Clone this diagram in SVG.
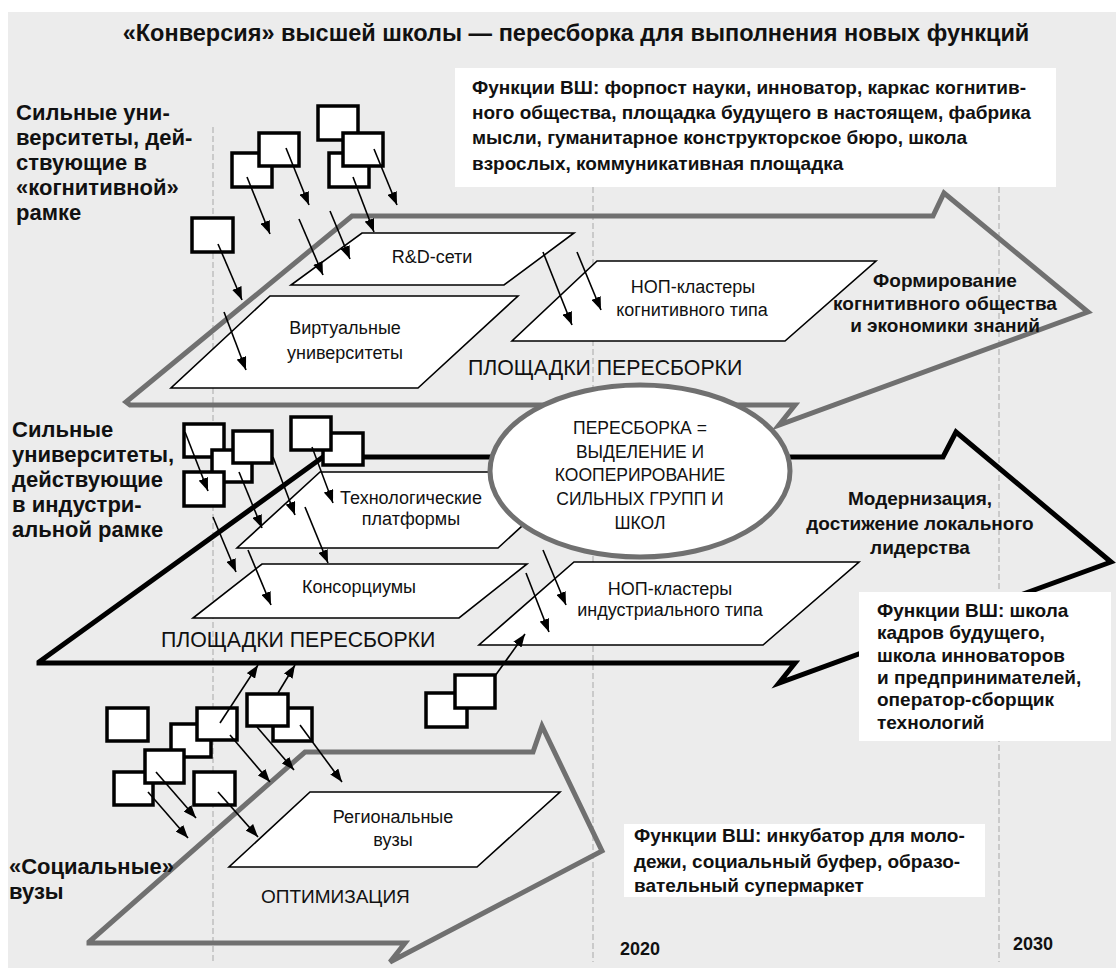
<svg xmlns="http://www.w3.org/2000/svg" width="1116" height="970" viewBox="0 0 1116 970">
<style>
.t{font-family:"Liberation Sans",Arial,sans-serif;fill:#111}
.b{font-weight:bold}
.lbl{font-size:22px;font-weight:bold}
.box{font-size:19px;font-weight:bold}
.goal{font-size:19px;font-weight:bold}
.reg{font-size:18px}
.ell{font-size:17.5px}
.big{font-size:21.3px}
.ga{fill:none;stroke:#707070;stroke-width:5;stroke-linejoin:miter}
.ba{fill:none;stroke:#000;stroke-width:5;stroke-linejoin:miter}
.pg{fill:#fff;stroke:#000;stroke-width:1.6}
.sq{fill:#fff;stroke:#000;stroke-width:3.5}
.dash{stroke:#a8a8a8;stroke-width:1;stroke-dasharray:6 3}
.wb{fill:#fff}
.c line{stroke:#000;stroke-width:1.6;marker-end:url(#ah)}
</style>
<defs>
<marker id="ah" viewBox="0 0 13 10" refX="13" refY="5" markerWidth="13" markerHeight="10" orient="auto" markerUnits="userSpaceOnUse"><path d="M0,0 L13,5 L0,10 z" fill="#000"/></marker>
</defs>
<rect x="0" y="0" width="1116" height="970" fill="#fff"/>
<rect x="8" y="12" width="1108" height="956" fill="#ececec"/>
<g id="gridlines">
<line class="dash" x1="213" y1="127" x2="213" y2="964"/>
<line class="dash" x1="593" y1="187" x2="593" y2="962"/>
<line class="dash" x1="999" y1="187" x2="999" y2="962"/>
</g>
<text class="t b" x="576" y="41" font-size="23.5" text-anchor="middle">«Конверсия» высшей школы — пересборка для выполнения новых функций</text>
<g id="arrow-cognitive"><polygon class="ga" points="126,402 352,216 933,216 944,193 1088,312 779,425 795,405 130,405"/></g>
<g id="arrow-industrial"><polygon class="ba" points="39,662 323,457 943,457 956,432 1111,562 779,683 795,663 39,663"/></g>
<g id="arrow-optimization"><polygon class="ga" points="89,942 305,752 533,752 542,726 602,851 390,962 405,943 89,943"/></g>
<g id="label-cognitive"><text class="t lbl" x="16" y="120">Сильные уни-</text><text class="t lbl" x="16" y="145">верситеты, дей-</text><text class="t lbl" x="16" y="170">ствующие в</text><text class="t lbl" x="16" y="195">«когнитивной»</text><text class="t lbl" x="16" y="220">рамке</text></g>
<g id="label-industrial"><text class="t lbl" x="12" y="437">Сильные</text><text class="t lbl" x="12" y="462">университеты,</text><text class="t lbl" x="12" y="487">действующие</text><text class="t lbl" x="12" y="512">в индустри-</text><text class="t lbl" x="12" y="537">альной рамке</text></g>
<g id="label-social"><text class="t lbl" x="9" y="874">«Социальные»</text><text class="t lbl" x="9" y="899">вузы</text></g>
<g id="rd-networks"><polygon class="pg" points="362,233 574,233 504,285 291,285"/><text class="t reg" x="432" y="263" text-anchor="middle">R&amp;D-сети</text></g>
<g id="virtual-univ"><polygon class="pg" points="270,296 518,296 418,388 171,388"/><text class="t reg" x="345" y="334" text-anchor="middle">Виртуальные</text><text class="t reg" x="345" y="359" text-anchor="middle">университеты</text></g>
<g id="nop-cognitive"><polygon class="pg" points="597,261 876,261 785,341 512,341"/><text class="t reg" x="693" y="293" text-anchor="middle">НОП-кластеры</text><text class="t reg" x="692" y="316" text-anchor="middle">когнитивного типа</text></g>
<text class="t big" x="468" y="375">ПЛОЩАДКИ ПЕРЕСБОРКИ</text>
<g id="goal-cognitive"><text class="t goal" x="945" y="287" text-anchor="middle">Формирование</text><text class="t goal" x="945" y="310" text-anchor="middle">когнитивного общества</text><text class="t goal" x="945" y="332" text-anchor="middle">и экономики знаний</text></g>
<g id="tech-platforms"><polygon class="pg" points="320,472 581,472 498,548 237,548"/><text class="t reg" x="411" y="504" text-anchor="middle">Технологические</text><text class="t reg" x="411" y="525" text-anchor="middle">платформы</text></g>
<g id="consortia"><polygon class="pg" points="262,564 527,564 459,618 193,618"/><text class="t reg" x="359" y="593" text-anchor="middle">Консорциумы</text></g>
<g id="nop-industrial"><polygon class="pg" points="574,562 859,562 763,645 479,645"/><text class="t reg" x="670" y="595" text-anchor="middle">НОП-кластеры</text><text class="t reg" x="670" y="616" text-anchor="middle">индустриального типа</text></g>
<text class="t big" x="161" y="647">ПЛОЩАДКИ ПЕРЕСБОРКИ</text>
<g id="goal-industrial"><text class="t goal" x="920" y="505" text-anchor="middle">Модернизация,</text><text class="t goal" x="920" y="530" text-anchor="middle">достижение локального</text><text class="t goal" x="920" y="554" text-anchor="middle">лидерства</text></g>
<g id="regional"><polygon class="pg" points="310,792 560,792 477,867 229,867"/><text class="t reg" x="393" y="823" text-anchor="middle">Региональные</text><text class="t reg" x="393" y="846" text-anchor="middle">вузы</text></g>
<text class="t" font-size="19" x="261" y="903">ОПТИМИЗАЦИЯ</text>
<g id="ellipse-reassembly"><ellipse cx="640" cy="471" rx="150" ry="86" fill="#fff" stroke="#707070" stroke-width="5"/>
<text class="t ell" x="640" y="434" text-anchor="middle">ПЕРЕСБОРКА =</text><text class="t ell" x="640" y="458" text-anchor="middle">ВЫДЕЛЕНИЕ И</text><text class="t ell" x="640" y="481" text-anchor="middle">КООПЕРИРОВАНИЕ</text><text class="t ell" x="640" y="505" text-anchor="middle">СИЛЬНЫХ ГРУПП И</text><text class="t ell" x="640" y="529" text-anchor="middle">ШКОЛ</text></g>
<g id="squares-cognitive">
<rect class="sq" x="232" y="153" width="40" height="34"/><rect class="sq" x="259" y="133" width="40" height="33"/>
<rect class="sq" x="318" y="106" width="40" height="34"/><rect class="sq" x="329" y="153" width="40" height="34"/><rect class="sq" x="343" y="133" width="40" height="33"/>
<rect class="sq" x="192" y="218" width="41" height="34"/>
</g>
<g id="squares-industrial">
<rect class="sq" x="184" y="424" width="40" height="33"/><rect class="sq" x="212" y="450" width="40" height="32"/><rect class="sq" x="233" y="431" width="39" height="32"/><rect class="sq" x="184" y="472" width="40" height="34"/>
<rect class="sq" x="323" y="433" width="40" height="32"/><rect class="sq" x="291" y="417" width="40" height="33"/>
<rect class="sq" x="426" y="693" width="41" height="34"/><rect class="sq" x="455" y="675" width="40" height="33"/>
</g>
<g id="squares-social">
<rect class="sq" x="107" y="708" width="41" height="33"/>
<rect class="sq" x="171" y="724" width="40" height="33"/><rect class="sq" x="197" y="708" width="40" height="32"/>
<rect class="sq" x="114" y="772" width="39" height="33"/><rect class="sq" x="145" y="750" width="39" height="33"/>
<rect class="sq" x="194" y="772" width="41" height="33"/>
<rect class="sq" x="273" y="708" width="39" height="33"/><rect class="sq" x="247" y="694" width="41" height="32"/>
</g>
<g id="box-cognitive"><rect class="wb" x="455" y="68" width="601" height="119"/>
<text class="t box" x="472" y="94">Функции ВШ: форпост науки, инноватор, каркас когнитив-</text>
<text class="t box" x="472" y="119">ного общества, площадка будущего в настоящем, фабрика</text>
<text class="t box" x="472" y="144">мысли, гуманитарное конструкторское бюро, школа</text>
<text class="t box" x="472" y="170">взрослых, коммуникативная площадка</text></g>
<g id="box-industrial"><rect class="wb" x="859" y="592" width="252" height="149"/>
<text class="t box" x="877" y="617">Функции ВШ: школа</text>
<text class="t box" x="877" y="639">кадров будущего,</text>
<text class="t box" x="877" y="662">школа инноваторов</text>
<text class="t box" x="877" y="684">и предпринимателей,</text>
<text class="t box" x="877" y="706">оператор-сборщик</text>
<text class="t box" x="877" y="729">технологий</text></g>
<g id="box-social"><rect class="wb" x="624" y="824" width="361" height="73"/>
<text class="t box" x="634" y="842">Функции ВШ: инкубатор для моло-</text>
<text class="t box" x="634" y="868">дежи, социальный буфер, образо-</text>
<text class="t box" x="634" y="892">вательный супермаркет</text></g>
<g id="years"><text class="t b" font-size="18" x="620" y="955">2020</text><text class="t b" font-size="18" x="1013" y="950">2030</text></g>
<g id="connectors" class="c">
<line x1="247" y1="177" x2="270" y2="234"/>
<line x1="286" y1="148" x2="309" y2="205"/>
<line x1="353" y1="177" x2="374" y2="232"/>
<line x1="374" y1="149" x2="397" y2="205"/>
<line x1="218" y1="244" x2="242" y2="300"/>
<line x1="299" y1="219" x2="323" y2="275"/>
<line x1="330" y1="211" x2="350" y2="259"/>
<line x1="224" y1="312" x2="246" y2="370"/>
<line x1="543" y1="252" x2="572" y2="325"/>
<line x1="577" y1="252" x2="601" y2="310"/>
<line x1="185" y1="432" x2="208" y2="491"/>
<line x1="239" y1="472" x2="262" y2="528"/>
<line x1="273" y1="457" x2="295" y2="515"/>
<line x1="312" y1="447" x2="333" y2="503"/>
<line x1="213" y1="517" x2="236" y2="572"/>
<line x1="248" y1="550" x2="271" y2="605"/>
<line x1="305" y1="507" x2="328" y2="563"/>
<line x1="543" y1="550" x2="566" y2="605"/>
<line x1="526" y1="573" x2="549" y2="632"/>
<line x1="495" y1="676" x2="525" y2="634"/>
<line x1="220" y1="723" x2="258" y2="665"/>
<line x1="278" y1="693" x2="295" y2="665"/>
<line x1="230" y1="735" x2="270" y2="782"/>
<line x1="257" y1="727" x2="294" y2="770"/>
<line x1="300" y1="725" x2="342" y2="782"/>
<line x1="156" y1="772" x2="196" y2="818"/>
<line x1="148" y1="792" x2="188" y2="838"/>
<line x1="218" y1="792" x2="258" y2="837"/>
</g>
</svg>
